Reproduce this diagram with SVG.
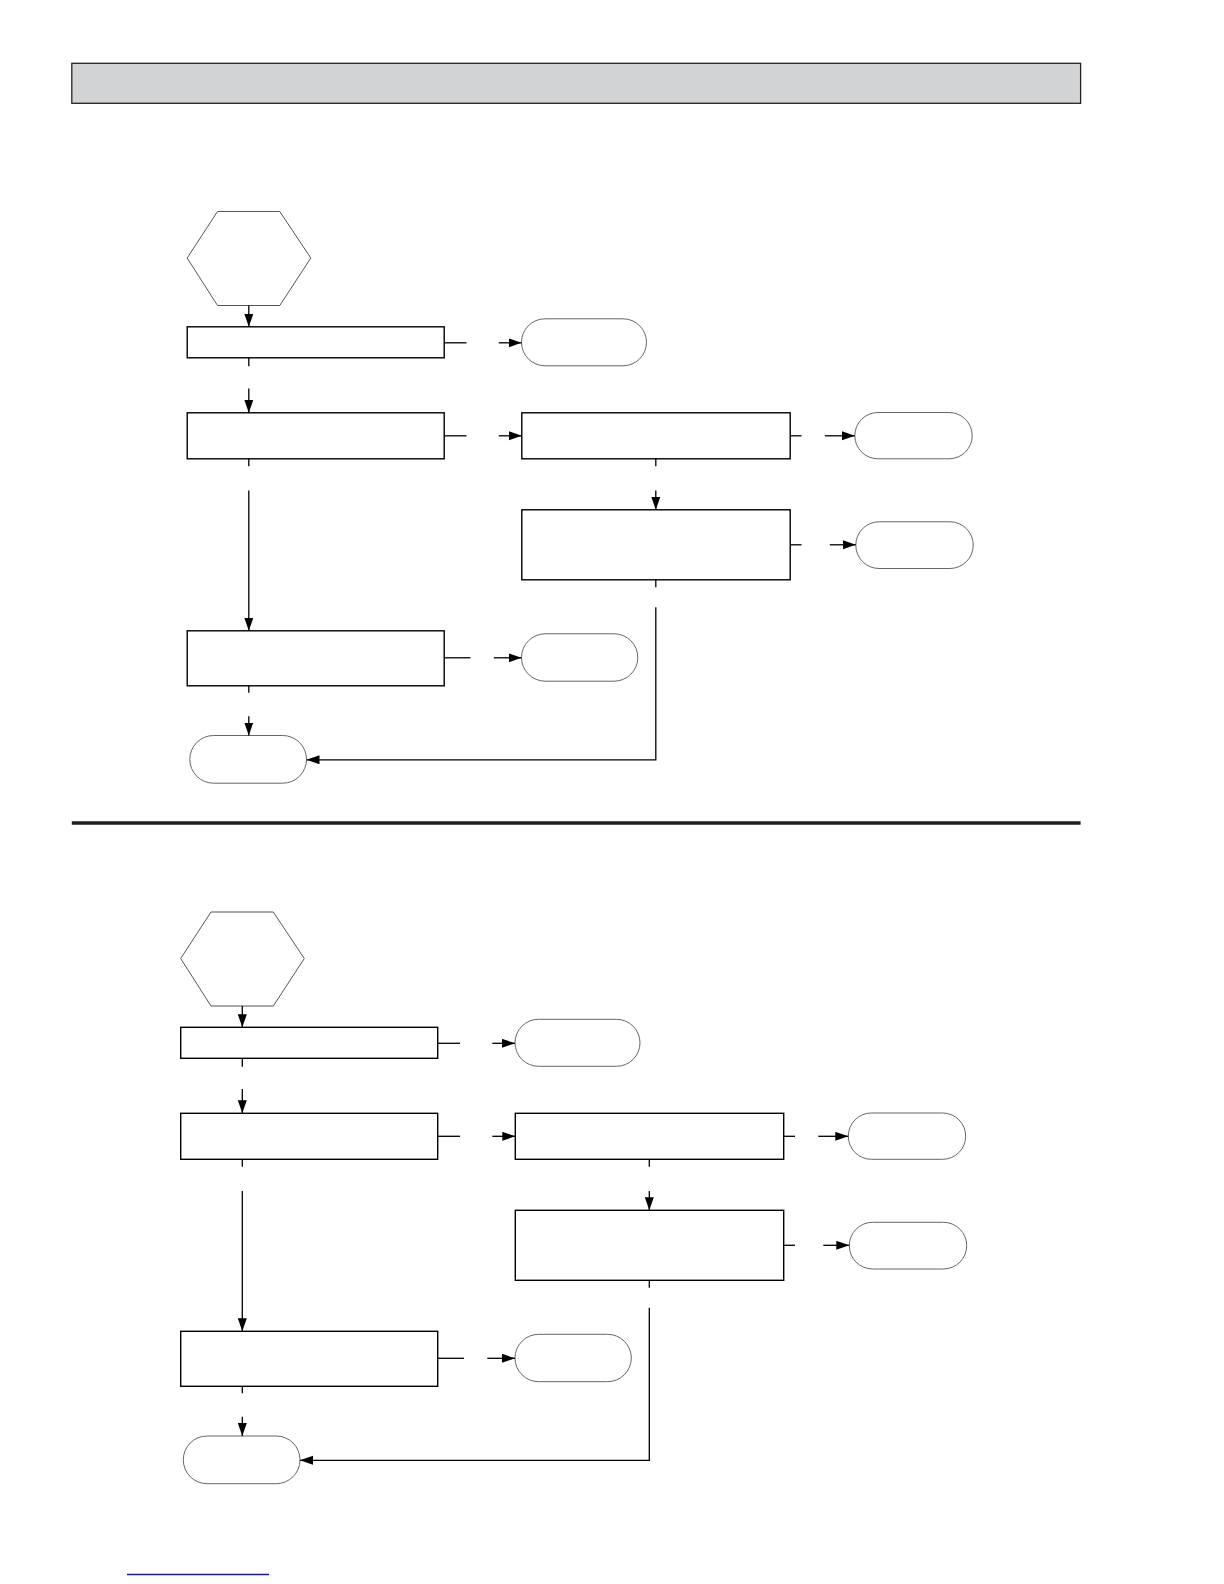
<svg xmlns="http://www.w3.org/2000/svg" width="1224" height="1584" viewBox="0 0 1224 1584">
<style>
.box{fill:#fff;stroke:#000;stroke-width:1.4}
.hex{fill:#fff;stroke:#555;stroke-width:1}
.term{fill:#fff;stroke:#666;stroke-width:1}
.ln{fill:none;stroke:#000;stroke-width:1.3}
.arr{fill:none;stroke:#000;stroke-width:1.3;marker-end:url(#ah)}
</style>
<defs>
<marker id="ah" markerUnits="userSpaceOnUse" markerWidth="14" markerHeight="10" refX="13" refY="4.5" orient="auto">
<path d="M0,0 L13,4.5 L0,9 Z" fill="#000"/>
</marker>
</defs>
<rect width="1224" height="1584" fill="#fff"/>
<g id="header"><rect x="71.8" y="63.3" width="1008.8" height="40" fill="#d2d3d5" stroke="#222" stroke-width="1.3"/></g>
<g id="divider"><line x1="71.8" y1="823" x2="1080.6" y2="823" stroke="#1e1e1e" stroke-width="3.6"/></g>
<g id="footer-link"><line x1="127" y1="1574.5" x2="269" y2="1574.5" stroke="#1a1a9a" stroke-width="1.5"/></g>

<g id="chart1" transform="translate(6.5,-700.5)">
<g id="c1-start"><polygon class="hex" points="211,912 273.3,912 304.3,958.5 273.3,1006 211,1006 180.7,958.5"/></g>
<g id="c1-step1"><rect class="box" x="180.7" y="1027.3" width="257" height="31"/></g>
<g id="c1-step2"><rect class="box" x="180.7" y="1113.3" width="257" height="46"/></g>
<g id="c1-step3"><rect class="box" x="180.7" y="1331.3" width="257" height="55"/></g>
<g id="c1-step4"><rect class="box" x="515.3" y="1113.3" width="268.4" height="46"/></g>
<g id="c1-step5"><rect class="box" x="515.3" y="1210.3" width="268.4" height="70"/></g>
<g id="c1-end1"><rect class="term" x="515" y="1019.3" width="125" height="47" rx="23.5"/></g>
<g id="c1-end2"><rect class="term" x="848.3" y="1113" width="117.4" height="46.3" rx="23.1"/></g>
<g id="c1-end3"><rect class="term" x="849.3" y="1222.3" width="117.4" height="46.7" rx="23.3"/></g>
<g id="c1-end4"><rect class="term" x="515" y="1334.3" width="116.3" height="47.4" rx="23.7"/></g>
<g id="c1-end5"><rect class="term" x="183.3" y="1436" width="116.7" height="47.7" rx="23.8"/></g>
<g id="c1-connectors">
<path class="arr" d="M242.3,1006 V1027.3"/>
<path class="ln" d="M242.3,1058.3 V1066.7"/>
<path class="arr" d="M242.3,1089 V1113.3"/>
<path class="ln" d="M437.7,1043.3 H460"/>
<path class="arr" d="M492.3,1043.3 H515"/>
<path class="ln" d="M242.3,1159.3 V1166.7"/>
<path class="arr" d="M242.3,1191 V1331.3"/>
<path class="ln" d="M437.7,1136.3 H460"/>
<path class="arr" d="M492.3,1136.3 H515.3"/>
<path class="ln" d="M783.7,1136.3 H795"/>
<path class="arr" d="M818.3,1136.3 H848.3"/>
<path class="ln" d="M649.3,1159.3 V1166.7"/>
<path class="arr" d="M649.3,1191 V1210.3"/>
<path class="ln" d="M783.7,1245.3 H795"/>
<path class="arr" d="M823.3,1245.3 H849.3"/>
<path class="ln" d="M649.3,1280.3 V1287.7"/>
<path class="ln" d="M437.7,1358.3 H464"/>
<path class="arr" d="M487.3,1358.3 H515"/>
<path class="ln" d="M242.3,1386.3 V1393.3"/>
<path class="arr" d="M242.3,1416.7 V1436"/>
<path class="arr" d="M649.3,1307.7 V1460.3 H300"/>
</g>
</g>

<g id="chart2">
<g id="c2-start"><polygon class="hex" points="211,912 273.3,912 304.3,958.5 273.3,1006 211,1006 180.7,958.5"/></g>
<g id="c2-step1"><rect class="box" x="180.7" y="1027.3" width="257" height="31"/></g>
<g id="c2-step2"><rect class="box" x="180.7" y="1113.3" width="257" height="46"/></g>
<g id="c2-step3"><rect class="box" x="180.7" y="1331.3" width="257" height="55"/></g>
<g id="c2-step4"><rect class="box" x="515.3" y="1113.3" width="268.4" height="46"/></g>
<g id="c2-step5"><rect class="box" x="515.3" y="1210.3" width="268.4" height="70"/></g>
<g id="c2-end1"><rect class="term" x="515" y="1019.3" width="125" height="47" rx="23.5"/></g>
<g id="c2-end2"><rect class="term" x="848.3" y="1113" width="117.4" height="46.3" rx="23.1"/></g>
<g id="c2-end3"><rect class="term" x="849.3" y="1222.3" width="117.4" height="46.7" rx="23.3"/></g>
<g id="c2-end4"><rect class="term" x="515" y="1334.3" width="116.3" height="47.4" rx="23.7"/></g>
<g id="c2-end5"><rect class="term" x="183.3" y="1436" width="116.7" height="47.7" rx="23.8"/></g>
<g id="c2-connectors">
<path class="arr" d="M242.3,1006 V1027.3"/>
<path class="ln" d="M242.3,1058.3 V1066.7"/>
<path class="arr" d="M242.3,1089 V1113.3"/>
<path class="ln" d="M437.7,1043.3 H460"/>
<path class="arr" d="M492.3,1043.3 H515"/>
<path class="ln" d="M242.3,1159.3 V1166.7"/>
<path class="arr" d="M242.3,1191 V1331.3"/>
<path class="ln" d="M437.7,1136.3 H460"/>
<path class="arr" d="M492.3,1136.3 H515.3"/>
<path class="ln" d="M783.7,1136.3 H795"/>
<path class="arr" d="M818.3,1136.3 H848.3"/>
<path class="ln" d="M649.3,1159.3 V1166.7"/>
<path class="arr" d="M649.3,1191 V1210.3"/>
<path class="ln" d="M783.7,1245.3 H795"/>
<path class="arr" d="M823.3,1245.3 H849.3"/>
<path class="ln" d="M649.3,1280.3 V1287.7"/>
<path class="ln" d="M437.7,1358.3 H464"/>
<path class="arr" d="M487.3,1358.3 H515"/>
<path class="ln" d="M242.3,1386.3 V1393.3"/>
<path class="arr" d="M242.3,1416.7 V1436"/>
<path class="arr" d="M649.3,1307.7 V1460.3 H300"/>
</g>
</g>
</svg>
